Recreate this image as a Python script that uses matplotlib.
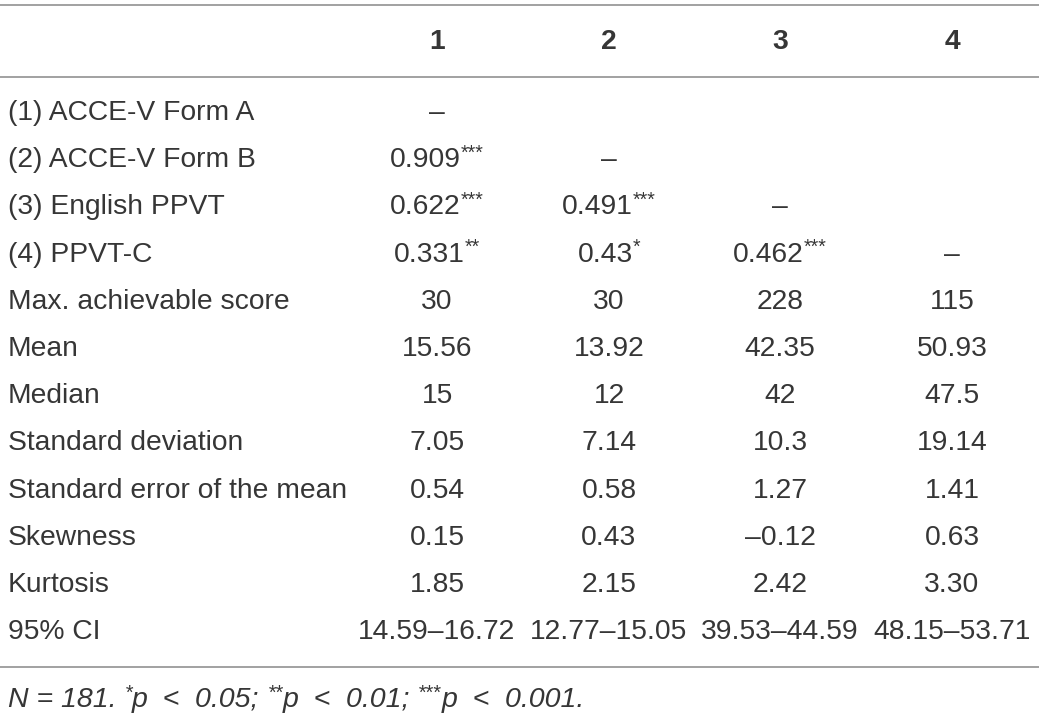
import matplotlib
matplotlib.use('Agg')
import matplotlib.pyplot as plt

plt.rcParams['font.family'] = ['Liberation Sans', 'DejaVu Sans']

header = ['1', '2', '3', '4']
row_labels = ['(1) ACCE-V Form A', '(2) ACCE-V Form B', '(3) English PPVT', '(4) PPVT-C',
              'Max. achievable score', 'Mean', 'Median', 'Standard deviation',
              'Standard error of the mean', 'Skewness', 'Kurtosis', '95% CI']
cells = [
    ['–', '', '', ''],
    ['0.909***', '–', '', ''],
    ['0.622***', '0.491***', '–', ''],
    ['0.331**', '0.43*', '0.462***', '–'],
    ['30', '30', '228', '115'],
    ['15.56', '13.92', '42.35', '50.93'],
    ['15', '12', '42', '47.5'],
    ['7.05', '7.14', '10.3', '19.14'],
    ['0.54', '0.58', '1.27', '1.41'],
    ['0.15', '0.43', '–0.12', '0.63'],
    ['1.85', '2.15', '2.42', '3.30'],
    ['14.59–16.72', '12.77–15.05', '39.53–44.59', '48.15–53.71'],
]
# footnote pieces: (text, superscript?)
footnote = [('N = 181. ', False), ('*', True), ('p  <  0.05; ', False), ('**', True),
            ('p  <  0.01; ', False), ('***', True), ('p  <  0.001.', False)]

W, H = 1039, 717
fig = plt.figure(figsize=(W / 100, H / 100), dpi=100)
ax = fig.add_axes([0, 0, 1, 1])
ax.set_xlim(0, W)
ax.set_ylim(H, 0)
ax.axis('off')
renderer = fig.canvas.get_renderer()

col_x = [437, 609, 780, 952]
label_x = 8
fs = 20.3
color = '#363636'
line_color = '#9a9a9a'


def width_of(t):
    return t.get_window_extent(renderer).width


def draw_pieces(x, y, pieces, align='left', size=fs, **kw):
    # draw a run of text pieces, superscript ones smaller and raised
    arts = []
    for s, sup in pieces:
        if sup:
            t = ax.text(0, y - 7, s, ha='left', va='center', fontsize=size * 0.7,
                        color=color, **kw)
        else:
            t = ax.text(0, y, s, ha='left', va='center', fontsize=size,
                        color=color, **kw)
        arts.append(t)
    widths = [width_of(t) for t in arts]
    total = sum(widths)
    cx = x - total / 2 if align == 'center' else x
    for t, w in zip(arts, widths):
        t.set_x(cx)
        cx += w


def split_stars(s):
    base = s.rstrip('*')
    stars = s[len(base):]
    pieces = [(base, False)]
    if stars:
        pieces.append((stars, True))
    return pieces


for j, h in enumerate(header):
    ax.text(col_x[j], 42, h, ha='center', va='center', fontsize=fs,
            fontweight='bold', color=color)

for line_y in [5, 77, 667]:
    ax.plot([0, W], [line_y, line_y], color=line_color, lw=1.3)

row_y0, row_dy = 113, 47.2
for i, lab in enumerate(row_labels):
    y = row_y0 + i * row_dy
    ax.text(label_x, y, lab, ha='left', va='center', fontsize=fs, color=color)
    for j, c in enumerate(cells[i]):
        if c:
            draw_pieces(col_x[j], y, split_stars(c), align='center')

draw_pieces(label_x, 700, footnote, size=20.5, style='italic')

fig.savefig('out.png', dpi=100)
